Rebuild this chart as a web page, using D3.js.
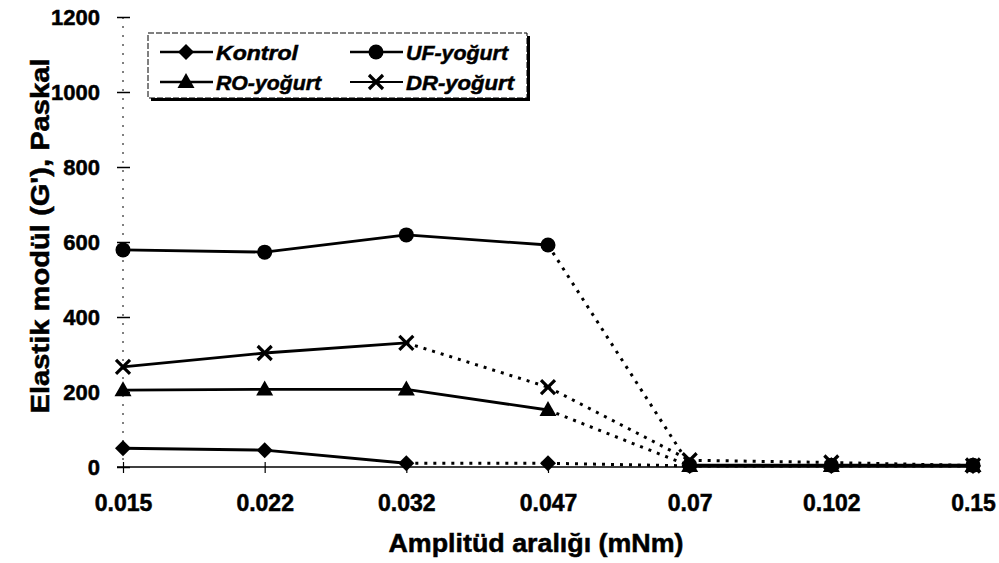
<!DOCTYPE html>
<html>
<head>
<meta charset="utf-8">
<script src="https://cdn.jsdelivr.net/npm/d3@7"></script>
<style>
  html, body { margin: 0; padding: 0; background: #fff; }
  svg { display: block; }
  text { font-family: "Liberation Sans", Arial, sans-serif; font-weight: bold; fill: #000; stroke: #000; stroke-width: 0.5px; }
</style>
</head>
<body>
<svg id="chart" width="999" height="563"></svg>
<script>
// ---- data ----
const categories = ["0.015", "0.022", "0.032", "0.047", "0.07", "0.102", "0.15"];
const kontrol = [50, 45, 10, 10, 3, 3, 3];
const ufYogurt = [579, 573, 619, 592, 5, 5, 5];
const roYogurt = [205, 207, 207, 152, 3, 3, 3];
const drYogurt = [267, 304, 331, 213, 18, 12, 4];
const seriesNames = ["Kontrol", "UF-yoğurt", "RO-yoğurt", "DR-yoğurt"];
const yTicks = [0, 200, 400, 600, 800, 1000, 1200];
const xTitle = "Amplitüd aralığı (mNm)";
const yTitle = "Elastik modül (G'), Paskal";

// ---- styling (kept separate from data) ----
const seriesStyle = {
  "Kontrol":   { marker: "diamond",  seg: ["s", "s", "d", "d", "d", "d"], legendLen: 82 },
  "UF-yoğurt": { marker: "circle",   seg: ["s", "s", "s", "d", "s", "s"], legendLen: 102 },
  "RO-yoğurt": { marker: "triangle", seg: ["s", "s", "s", "d", "s", "s"], legendLen: 105 },
  "DR-yoğurt": { marker: "cross",    seg: ["s", "s", "d", "d", "d", "d"], legendLen: 108 }
};
const seriesValues = [kontrol, ufYogurt, roYogurt, drYogurt];

const svg = d3.select("#chart");
svg.append("rect").attr("width", 999).attr("height", 563).attr("fill", "#fff");

const x = d3.scalePoint().domain(categories).range([123, 973]);
const y = d3.scaleLinear().domain([0, 1200]).range([467, 17]);

// ---- axes ----
const yAxis = svg.append("g").attr("transform", "translate(123,0)")
  .call(d3.axisLeft(y).tickValues(yTicks).tickSize(6).tickFormat(d3.format("d")));
yAxis.select(".domain").remove();
yAxis.append("line").attr("x1", 0).attr("x2", 0).attr("y1", y(1200)).attr("y2", y(0))
  .attr("stroke", "#000").attr("stroke-width", 1).attr("stroke-dasharray", "2,7");
yAxis.selectAll(".tick line").attr("x1", -6).attr("x2", 7).attr("stroke", "#000").attr("stroke-width", 1.5);
yAxis.selectAll(".tick text").attr("x", -23).attr("dy", "0.36em")
  .style("font-size", "22px").style("font-family", "'Liberation Sans', Arial, sans-serif")
  .style("font-weight", "bold").attr("fill", "#000");

const xAxis = svg.append("g").attr("transform", "translate(0," + y(0) + ")")
  .call(d3.axisBottom(x).tickSize(6).tickSizeOuter(0));
xAxis.select(".domain").attr("d", "M117,0H975").attr("stroke", "#000").attr("stroke-width", 1.6);
xAxis.selectAll(".tick line").attr("y1", -5).attr("y2", 6).attr("stroke", "#000").attr("stroke-width", 1.2);
xAxis.selectAll(".tick text").attr("y", 44).attr("dy", 0)
  .style("font-size", "23px").style("font-family", "'Liberation Sans', Arial, sans-serif")
  .style("font-weight", "bold").attr("fill", "#000");

// ---- titles ----
svg.append("text").attr("x", 536).attr("y", 552).attr("text-anchor", "middle")
  .attr("textLength", 295).attr("lengthAdjust", "spacingAndGlyphs")
  .style("font-size", "25px").text(xTitle);
svg.append("text").attr("transform", "translate(49,236) rotate(-90)").attr("text-anchor", "middle")
  .attr("textLength", 355).attr("lengthAdjust", "spacingAndGlyphs")
  .style("font-size", "25px").text(yTitle);

// ---- markers ----
function drawMarker(g, type, cx, cy) {
  if (type === "diamond") {
    g.append("path").attr("d", `M${cx},${cy - 8}L${cx + 8},${cy}L${cx},${cy + 8}L${cx - 8},${cy}Z`).attr("fill", "#000");
  } else if (type === "circle") {
    g.append("circle").attr("cx", cx).attr("cy", cy).attr("r", 7.5).attr("fill", "#000");
  } else if (type === "triangle") {
    g.append("path").attr("d", `M${cx},${cy - 9}L${cx + 8.5},${cy + 6}L${cx - 8.5},${cy + 6}Z`).attr("fill", "#000");
  } else if (type === "cross") {
    g.append("path").attr("d", `M${cx - 7},${cy - 7}L${cx + 7},${cy + 7}M${cx + 7},${cy - 7}L${cx - 7},${cy + 7}`)
      .attr("stroke", "#000").attr("stroke-width", 3.2).attr("fill", "none");
  }
}

// ---- lines ----
const plot = svg.append("g");
seriesNames.forEach((name, si) => {
  const vals = seriesValues[si];
  const st = seriesStyle[name];
  const g = plot.append("g");
  for (let i = 0; i < vals.length - 1; i++) {
    const line = d3.line().x(d => x(d[0])).y(d => y(d[1]));
    const p = g.append("path")
      .attr("d", line([[categories[i], vals[i]], [categories[i + 1], vals[i + 1]]]))
      .attr("fill", "none").attr("stroke", "#000");
    if (st.seg[i] === "d") {
      p.attr("stroke-width", 3).attr("stroke-dasharray", "3,6");
    } else {
      p.attr("stroke-width", 2.8);
    }
  }
});
seriesNames.forEach((name, si) => {
  const vals = seriesValues[si];
  const g = plot.append("g");
  vals.forEach((v, i) => drawMarker(g, seriesStyle[name].marker, x(categories[i]), y(v)));
});

// ---- legend ----
const lg = svg.append("g");
lg.append("rect").attr("x", 151).attr("y", 36).attr("width", 379).attr("height", 65).attr("fill", "#000");
lg.append("rect").attr("x", 148).attr("y", 33).attr("width", 379).attr("height", 65)
  .attr("fill", "#fff").attr("stroke", "#000").attr("stroke-width", 1).attr("stroke-dasharray", "6,2");
const legendPos = [[160, 52], [350, 52], [160, 82], [350, 82]];
seriesNames.forEach((name, i) => {
  const [lx, ly] = legendPos[i];
  lg.append("line").attr("x1", lx).attr("x2", lx + 53).attr("y1", ly).attr("y2", ly)
    .attr("stroke", "#000").attr("stroke-width", name === "DR-yoğurt" ? 1.8 : 2.6);
  drawMarker(lg, seriesStyle[name].marker, lx + 26, ly);
  lg.append("text").attr("x", lx + 56).attr("y", ly).attr("dy", "0.36em")
    .attr("textLength", seriesStyle[name].legendLen).attr("lengthAdjust", "spacingAndGlyphs")
    .style("font-size", "21px").style("font-style", "italic").text(name);
});
</script>
</body>
</html>
